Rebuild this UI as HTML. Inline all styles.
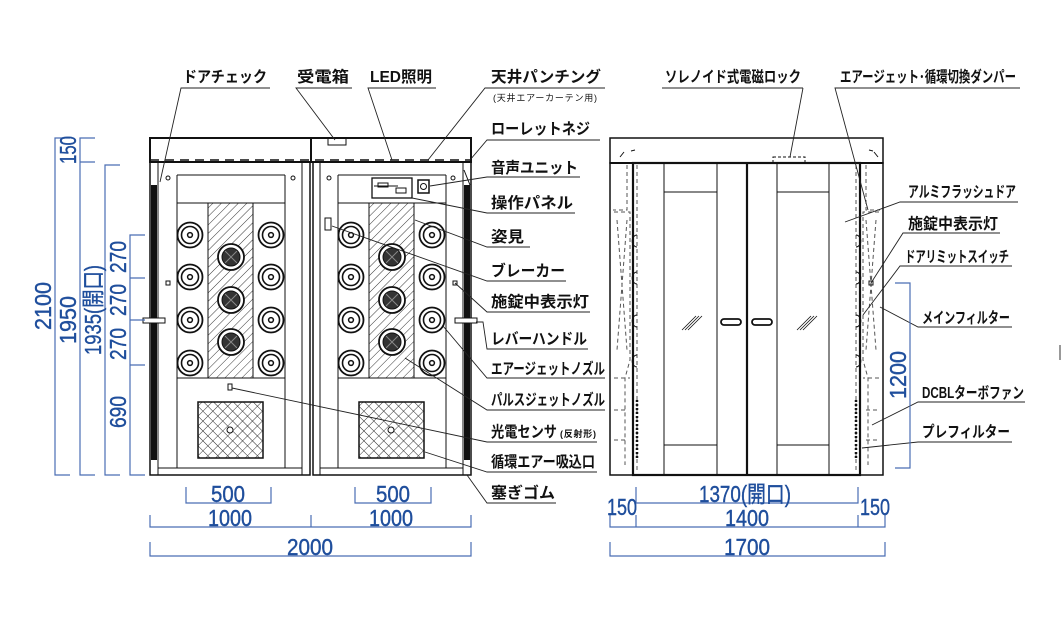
<!DOCTYPE html>
<html><head><meta charset="utf-8"><style>
html,body{margin:0;padding:0;background:#fff}
svg{display:block}
.l{font-family:"Liberation Sans","Noto Sans CJK JP",sans-serif;font-size:15.5px;font-weight:bold;fill:#111}
.d{font-family:"Liberation Sans","Noto Sans CJK JP",sans-serif;font-size:23px;fill:#1f4e9c;stroke:#1f4e9c;stroke-width:0.4}
.k{stroke:#111;fill:none;stroke-width:1}
.bl{stroke:#4a6db3;fill:none;stroke-width:1.2}
</style></head><body>
<svg width="1063" height="635" viewBox="0 0 1063 635" xmlns="http://www.w3.org/2000/svg">
<defs>
<pattern id="h" width="6" height="6" patternUnits="userSpaceOnUse" patternTransform="rotate(45)"><line x1="0" y1="0" x2="0" y2="6" stroke="#222" stroke-width="0.9"/></pattern>
<pattern id="x" width="7" height="7" patternUnits="userSpaceOnUse" patternTransform="rotate(45)"><path d="M0 0H7M0 0V7" stroke="#222" stroke-width="0.9"/></pattern>
<g id="noz"><circle r="12.5" fill="#fff" stroke="#111" stroke-width="1.8"/><circle r="8.5" fill="none" stroke="#111" stroke-width="1.6"/><circle r="2.4" fill="none" stroke="#111" stroke-width="1.5"/></g>
<g id="pj"><circle r="13" fill="#fff" stroke="#111" stroke-width="1.8"/><circle r="9" fill="#333" stroke="#111"/><path d="M-6-6L6 6M-6 6L6-6" stroke="#888" stroke-width="1"/></g>
<g id="half" class="k">
<line x1="177" y1="175" x2="177" y2="468"/><line x1="285" y1="175" x2="285" y2="468"/>
<line x1="177" y1="175" x2="285" y2="175"/>
<line x1="177" y1="203" x2="285" y2="203"/><line x1="177" y1="378" x2="285" y2="378"/>
<rect x="208" y="203" width="45" height="175" fill="url(#h)" stroke="#111"/>
<use href="#noz" x="190" y="235"/><use href="#noz" x="190" y="277"/><use href="#noz" x="190" y="320"/><use href="#noz" x="190" y="363"/>
<use href="#noz" x="271" y="235"/><use href="#noz" x="271" y="277"/><use href="#noz" x="271" y="320"/><use href="#noz" x="271" y="363"/>
<use href="#pj" x="231" y="257"/><use href="#pj" x="231" y="300"/><use href="#pj" x="231" y="342"/>
<rect x="198" y="402" width="65" height="56" fill="url(#x)" stroke="#111" stroke-width="1.5"/>
<circle cx="230" cy="430" r="3" fill="#fff" stroke="#111"/>
</g>
</defs>

<g class="k">
<rect x="150" y="138" width="321" height="24" stroke-width="2"/>
<line x1="311" y1="138" x2="311" y2="162" stroke-width="2"/>
<rect x="328" y="138" width="18" height="7"/>
<line x1="150" y1="160" x2="471" y2="160" stroke-dasharray="9,6" stroke-width="1.5"/>
<rect x="150" y="162" width="160" height="313" stroke-width="1.5"/>
<rect x="313" y="162" width="158" height="313" stroke-width="1.5"/>
<line x1="158" y1="162" x2="158" y2="475"/><line x1="302" y1="162" x2="302" y2="475"/>
<line x1="320" y1="162" x2="320" y2="475"/><line x1="463" y1="162" x2="463" y2="475"/>
<line x1="158" y1="468" x2="302" y2="468"/><line x1="320" y1="468" x2="463" y2="468"/>
</g>
<rect x="151" y="185" width="6" height="275" fill="#111"/>
<rect x="464" y="185" width="6" height="275" fill="#111"/>
<use href="#half"/>
<use href="#half" x="161"/>
<g class="k">
<circle cx="168" cy="178" r="2"/><circle cx="293" cy="178" r="2"/><circle cx="329" cy="178" r="2"/><circle cx="453" cy="178" r="2"/>
<rect x="166" y="281" width="4" height="4"/><rect x="453" y="281" width="4" height="4"/>
<rect x="143" y="318" width="22" height="5" fill="#fff"/><rect x="455" y="318" width="22" height="5" fill="#fff"/>
<rect x="228" y="384" width="4" height="6"/>
<rect x="325" y="218" width="6" height="12"/>
<rect x="372" y="178" width="40" height="20" stroke-width="1.3"/>
<line x1="374" y1="186" x2="398" y2="186"/><rect x="378" y="183" width="10" height="4"/><rect x="396" y="188" width="10" height="5"/>
<rect x="418" y="180" width="11" height="13" stroke-width="1.5"/><circle cx="423.5" cy="186.5" r="3"/>
<line x1="464" y1="170" x2="470" y2="185"/>
</g>

<g class="k">
<rect x="610" y="138" width="273" height="25" stroke-width="1.5"/>
<line x1="610" y1="163" x2="883" y2="163" stroke-width="2"/>
<rect x="610" y="163" width="273" height="312" stroke-width="1.5"/>
<rect x="633" y="163" width="227" height="312" stroke-width="2.2"/>
<line x1="747" y1="163" x2="747" y2="475" stroke-width="2.2"/>
<line x1="664" y1="163" x2="664" y2="475"/><line x1="717" y1="163" x2="717" y2="475"/>
<line x1="777" y1="163" x2="777" y2="475"/><line x1="829" y1="163" x2="829" y2="475"/>
<line x1="664" y1="192" x2="717" y2="192"/><line x1="664" y1="445" x2="717" y2="445"/>
<line x1="777" y1="192" x2="829" y2="192"/><line x1="777" y1="445" x2="829" y2="445"/>
<rect x="773" y="157" width="32" height="6" stroke-dasharray="3,2"/>
<rect x="721" y="319" width="20" height="6" rx="3" stroke-width="1.8"/><rect x="752" y="319" width="20" height="6" rx="3" stroke-width="1.8"/>
<path d="M682 330l14-14M685 330l14-14M688 330l14-14M797 330l14-14M800 330l14-14M803 330l14-14" stroke-width="0.8"/>
<path d="M620 157l4-5M631 151l4-1M873 151l-4-1M878 157l-4-5" />
<g stroke-dasharray="4,3" stroke="#555">
<line x1="637" y1="165" x2="637" y2="470"/><line x1="856" y1="165" x2="856" y2="470"/>
<path d="M627 165V210H613M856 165V210"/><path d="M866 165V210H880"/>
<path d="M614 212H630V360L625 378V465M614 378H630"/>
<path d="M879 212H863V360L868 378V465M879 378H863"/>
<path d="M617 220L627 350M627 220L617 350M876 220L866 350M866 220L876 350"/>
<path d="M614 410H628M614 440H628M866 410H880M866 440H880"/>
</g>
<path d="M637 235a4 5 0 0 0 0 12M637 272a4 5 0 0 0 0 12M637 315a4 5 0 0 0 0 12M637 355a4 5 0 0 0 0 12" />
<path d="M856 235a4 5 0 0 1 0 12M856 272a4 5 0 0 1 0 12M856 315a4 5 0 0 1 0 12M856 355a4 5 0 0 1 0 12" />
<path d="M637 400v60M856 400v60" stroke-dasharray="2,2" stroke-width="2.5"/>
<rect x="869" y="281" width="4" height="4"/>
</g>

<g stroke="#222" stroke-width="0.9" fill="none">
<path d="M270 88H181L160 182"/><path d="M352 88H296L335 140"/><path d="M436 88H368L392 160"/><path d="M605 88H485L428 160"/>
<path d="M600 140H487L470 160"/>
<path d="M580 177H487L430 186"/>
<path d="M575 213H487L412 198"/>
<path d="M530 247H487L415 220"/>
<path d="M566 281H487L332 226"/>
<path d="M590 312H487L455 283"/>
<path d="M588 349H487L483 322H476"/>
<path d="M605 378H487L443 326"/>
<path d="M605 410H487L405 358"/>
<path d="M597 442H487L232 388"/>
<path d="M597 472H487L425 452"/>
<path d="M556 503H487L467 475"/>
<path d="M803 88H662M803 88L790 157"/>
<path d="M1020 88H835L868 210"/>
<path d="M1018 202H900L845 222"/>
<path d="M1000 233H903L871 283"/>
<path d="M1012 266H900L863 315"/>
<path d="M1012 327H918L880 307"/>
<path d="M1025 402H918L872 425"/>
<path d="M1012 442H918L862 448"/>
</g>

<g class="l">
<text x="183" y="82" textLength="84" lengthAdjust="spacingAndGlyphs">ドアチェック</text>
<text x="297" y="82" textLength="52" lengthAdjust="spacingAndGlyphs">受電箱</text>
<text x="370" y="82" textLength="62" lengthAdjust="spacingAndGlyphs">LED照明</text>
<text x="491" y="82" textLength="110" lengthAdjust="spacingAndGlyphs">天井パンチング</text>
<text x="493" y="101" style="font-size:9px;font-weight:normal" textLength="104">(天井エアーカーテン用)</text>
<text x="491" y="134" textLength="99" lengthAdjust="spacingAndGlyphs">ローレットネジ</text>
<text x="491" y="173" textLength="87" lengthAdjust="spacingAndGlyphs">音声ユニット</text>
<text x="491" y="208" textLength="82" lengthAdjust="spacingAndGlyphs">操作パネル</text>
<text x="491" y="242" textLength="33" lengthAdjust="spacingAndGlyphs">姿見</text>
<text x="491" y="276" textLength="74" lengthAdjust="spacingAndGlyphs">ブレーカー</text>
<text x="491" y="307" textLength="98" lengthAdjust="spacingAndGlyphs">施錠中表示灯</text>
<text x="491" y="344" textLength="96" lengthAdjust="spacingAndGlyphs">レバーハンドル</text>
<text x="491" y="374" textLength="114" lengthAdjust="spacingAndGlyphs">エアージェットノズル</text>
<text x="491" y="405" textLength="114" lengthAdjust="spacingAndGlyphs">パルスジェットノズル</text>
<text x="491" y="437" textLength="66" lengthAdjust="spacingAndGlyphs">光電センサ</text><text x="560" y="437" style="font-size:9px" textLength="36">(反射形)</text>
<text x="491" y="467" textLength="104" lengthAdjust="spacingAndGlyphs">循環エアー吸込口</text>
<text x="491" y="498" textLength="64" lengthAdjust="spacingAndGlyphs">塞ぎゴム</text>
<text x="665" y="82" textLength="136" lengthAdjust="spacingAndGlyphs">ソレノイド式電磁ロック</text>
<text x="840" y="82" textLength="176" lengthAdjust="spacingAndGlyphs">エアージェット･循環切換ダンパー</text>
<text x="908" y="197" textLength="108" lengthAdjust="spacingAndGlyphs">アルミフラッシュドア</text>
<text x="908" y="229" textLength="90" lengthAdjust="spacingAndGlyphs">施錠中表示灯</text>
<text x="905" y="262" textLength="104" lengthAdjust="spacingAndGlyphs">ドアリミットスイッチ</text>
<text x="922" y="323" textLength="88" lengthAdjust="spacingAndGlyphs">メインフィルター</text>
<text x="922" y="398" textLength="102" lengthAdjust="spacingAndGlyphs">DCBLターボファン</text>
<text x="922" y="437" textLength="88" lengthAdjust="spacingAndGlyphs">プレフィルター</text>
</g>

<g class="bl">
<path d="M70 138H55V475H70"/>
<path d="M95 138H80V475H95M80 162H95"/>
<path d="M120 165H105V475H120"/>
<path d="M145 235H130V475H145M130 278H145M130 320H145M130 365H145"/>
<path d="M186 487V503H271V487M355 487V503H431V487"/>
<path d="M150 515V527H471V515M311 515V527"/>
<path d="M150 542V556H471V542"/>
<path d="M636 487V503H858V487"/>
<path d="M610 515V527H885V515M636 515V527M858 515V527"/>
<path d="M610 542V556H885V542"/>
<path d="M895 283H910V468H895"/>
</g>
<g class="d" text-anchor="middle">
<text transform="translate(51,306) rotate(-90)" textLength="48" lengthAdjust="spacingAndGlyphs">2100</text>
<text transform="translate(76,150) rotate(-90)" textLength="28" lengthAdjust="spacingAndGlyphs">150</text>
<text transform="translate(76,320) rotate(-90)" textLength="48" lengthAdjust="spacingAndGlyphs">1950</text>
<text transform="translate(101,310) rotate(-90)" textLength="90" lengthAdjust="spacingAndGlyphs">1935(開口)</text>
<text transform="translate(126,257) rotate(-90)" textLength="32" lengthAdjust="spacingAndGlyphs">270</text>
<text transform="translate(126,300) rotate(-90)" textLength="32" lengthAdjust="spacingAndGlyphs">270</text>
<text transform="translate(126,344) rotate(-90)" textLength="32" lengthAdjust="spacingAndGlyphs">270</text>
<text transform="translate(126,412) rotate(-90)" textLength="32" lengthAdjust="spacingAndGlyphs">690</text>
<text transform="translate(906,375) rotate(-90)" textLength="48" lengthAdjust="spacingAndGlyphs">1200</text>
<text x="228" y="502" textLength="34" lengthAdjust="spacingAndGlyphs">500</text>
<text x="393" y="502" textLength="34" lengthAdjust="spacingAndGlyphs">500</text>
<text x="230" y="526" textLength="44" lengthAdjust="spacingAndGlyphs">1000</text>
<text x="391" y="526" textLength="44" lengthAdjust="spacingAndGlyphs">1000</text>
<text x="310" y="555" textLength="46" lengthAdjust="spacingAndGlyphs">2000</text>
<text x="745" y="502" textLength="92" lengthAdjust="spacingAndGlyphs">1370(開口)</text>
<text x="747" y="526" textLength="44" lengthAdjust="spacingAndGlyphs">1400</text>
<text x="622" y="515" textLength="30" lengthAdjust="spacingAndGlyphs">150</text>
<text x="875" y="515" textLength="30" lengthAdjust="spacingAndGlyphs">150</text>
<text x="747" y="555" textLength="46" lengthAdjust="spacingAndGlyphs">1700</text>
</g>
<line x1="1060" y1="345" x2="1060" y2="360" stroke="#999" stroke-width="2"/>
</svg>
</body></html>
